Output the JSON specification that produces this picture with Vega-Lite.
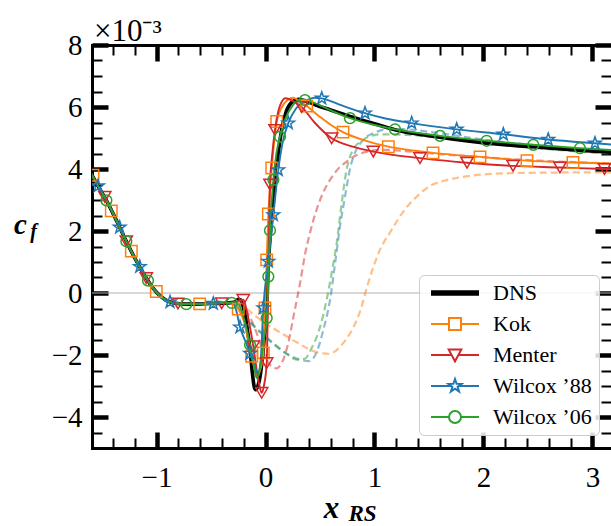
{
"$schema": "https://vega.github.io/schema/vega-lite/v6.json",
"width": 519, "height": 403,
"autosize": "none",
"padding": {"left": 92, "top": 45, "right": 0, "bottom": 78},
"title": {"text": "×10⁻³", "anchor": "start", "frame": "group", "font": "Liberation Serif", "fontSize": 31, "fontWeight": "normal", "color": "black", "offset": 5, "dx": 2, "dy": 22},
"config": {"view": {"stroke": null}, "font": "Liberation Serif", "style": {"guide-label": {"font": "Liberation Serif", "fill": "black"}}, "legend": {"labelFont": "Liberation Serif", "labelFontSize": 22, "labelColor": "black", "labelFontWeight": "normal"}},
"datasets": {
"zero": [{"y": 0}],
"solid": [
{"m":"DNS","x":-1.6,"y":3.85},{"m":"DNS","x":-1.52,"y":3.35},{"m":"DNS","x":-1.454,"y":2.95},{"m":"DNS","x":-1.36,"y":2.28},{"m":"DNS","x":-1.261,"y":1.55},{"m":"DNS","x":-1.18,"y":1.0},{"m":"DNS","x":-1.106,"y":0.55},{"m":"DNS","x":-1.03,"y":0.15},{"m":"DNS","x":-0.959,"y":-0.12},{"m":"DNS","x":-0.89,"y":-0.27},{"m":"DNS","x":-0.83,"y":-0.33},{"m":"DNS","x":-0.7,"y":-0.36},{"m":"DNS","x":-0.5,"y":-0.34},{"m":"DNS","x":-0.35,"y":-0.32},
{"m":"DNS","x":-0.28,"y":-0.29},{"m":"DNS","x":-0.25,"y":-0.2},{"m":"DNS","x":-0.23,"y":-0.22},{"m":"DNS","x":-0.2,"y":-0.5},{"m":"DNS","x":-0.17,"y":-1.1},{"m":"DNS","x":-0.142,"y":-1.83},{"m":"DNS","x":-0.12,"y":-2.6},{"m":"DNS","x":-0.105,"y":-3.0},{"m":"DNS","x":-0.09,"y":-3.12},{"m":"DNS","x":-0.07,"y":-3.0},{"m":"DNS","x":-0.05,"y":-2.7},{"m":"DNS","x":-0.035,"y":-2.3},{"m":"DNS","x":-0.01,"y":-1.4},{"m":"DNS","x":0.011,"y":-0.6},{"m":"DNS","x":0.023,"y":0.7},{"m":"DNS","x":0.04,"y":1.7},{"m":"DNS","x":0.057,"y":2.4},{"m":"DNS","x":0.09,"y":3.6},{"m":"DNS","x":0.12,"y":4.6},{"m":"DNS","x":0.15,"y":5.3},{"m":"DNS","x":0.19,"y":5.85},{"m":"DNS","x":0.24,"y":6.15},{"m":"DNS","x":0.3,"y":6.25},{"m":"DNS","x":0.38,"y":6.18},{"m":"DNS","x":0.45,"y":6.08},{"m":"DNS","x":0.592,"y":5.91},{"m":"DNS","x":0.8,"y":5.67},{"m":"DNS","x":1.0,"y":5.46},{"m":"DNS","x":1.206,"y":5.25},{"m":"DNS","x":1.5,"y":5.07},{"m":"DNS","x":1.97,"y":4.86},{"m":"DNS","x":2.5,"y":4.7},{"m":"DNS","x":2.9,"y":4.6},{"m":"DNS","x":3.22,"y":4.53},
{"m":"Kok","x":-1.6,"y":3.85},{"m":"Kok","x":-1.52,"y":3.35},{"m":"Kok","x":-1.454,"y":2.95},{"m":"Kok","x":-1.36,"y":2.28},{"m":"Kok","x":-1.261,"y":1.55},{"m":"Kok","x":-1.18,"y":1.0},{"m":"Kok","x":-1.106,"y":0.55},{"m":"Kok","x":-1.03,"y":0.15},{"m":"Kok","x":-0.959,"y":-0.12},{"m":"Kok","x":-0.89,"y":-0.27},{"m":"Kok","x":-0.83,"y":-0.33},{"m":"Kok","x":-0.7,"y":-0.36},{"m":"Kok","x":-0.5,"y":-0.34},{"m":"Kok","x":-0.35,"y":-0.32},
{"m":"Kok","x":-0.3,"y":-0.33},{"m":"Kok","x":-0.25,"y":-0.52},{"m":"Kok","x":-0.2,"y":-0.9},{"m":"Kok","x":-0.16,"y":-1.5},{"m":"Kok","x":-0.127,"y":-2.04},{"m":"Kok","x":-0.1,"y":-2.45},{"m":"Kok","x":-0.075,"y":-2.7},{"m":"Kok","x":-0.05,"y":-2.5},{"m":"Kok","x":-0.02,"y":-1.93},{"m":"Kok","x":-0.005,"y":-0.48},{"m":"Kok","x":0.011,"y":1.07},{"m":"Kok","x":0.026,"y":2.55},{"m":"Kok","x":0.057,"y":4.03},{"m":"Kok","x":0.08,"y":4.9},{"m":"Kok","x":0.103,"y":5.53},{"m":"Kok","x":0.15,"y":6.0},{"m":"Kok","x":0.2,"y":6.22},{"m":"Kok","x":0.252,"y":6.3},{"m":"Kok","x":0.3,"y":6.22},{"m":"Kok","x":0.378,"y":6.03},{"m":"Kok","x":0.5,"y":5.68},{"m":"Kok","x":0.6,"y":5.42},{"m":"Kok","x":0.711,"y":5.19},{"m":"Kok","x":0.9,"y":4.93},{"m":"Kok","x":1.127,"y":4.72},{"m":"Kok","x":1.3,"y":4.62},{"m":"Kok","x":1.537,"y":4.52},{"m":"Kok","x":1.968,"y":4.39},{"m":"Kok","x":2.399,"y":4.27},{"m":"Kok","x":2.821,"y":4.21},{"m":"Kok","x":3.22,"y":4.17},
{"m":"Menter","x":-1.6,"y":3.85},{"m":"Menter","x":-1.52,"y":3.35},{"m":"Menter","x":-1.454,"y":2.95},{"m":"Menter","x":-1.36,"y":2.28},{"m":"Menter","x":-1.261,"y":1.55},{"m":"Menter","x":-1.18,"y":1.0},{"m":"Menter","x":-1.106,"y":0.55},{"m":"Menter","x":-1.03,"y":0.15},{"m":"Menter","x":-0.959,"y":-0.12},{"m":"Menter","x":-0.89,"y":-0.27},{"m":"Menter","x":-0.83,"y":-0.33},{"m":"Menter","x":-0.7,"y":-0.36},{"m":"Menter","x":-0.5,"y":-0.34},{"m":"Menter","x":-0.35,"y":-0.32},
{"m":"Menter","x":-0.3,"y":-0.3},{"m":"Menter","x":-0.204,"y":-0.22},{"m":"Menter","x":-0.17,"y":-0.6},{"m":"Menter","x":-0.14,"y":-1.15},{"m":"Menter","x":-0.112,"y":-1.72},{"m":"Menter","x":-0.08,"y":-2.5},{"m":"Menter","x":-0.055,"y":-3.0},{"m":"Menter","x":-0.035,"y":-3.22},{"m":"Menter","x":-0.015,"y":-3.0},{"m":"Menter","x":0.011,"y":-2.26},{"m":"Menter","x":0.022,"y":-0.3},{"m":"Menter","x":0.03,"y":1.6},{"m":"Menter","x":0.041,"y":3.5},{"m":"Menter","x":0.06,"y":4.4},{"m":"Menter","x":0.087,"y":5.26},{"m":"Menter","x":0.12,"y":5.9},{"m":"Menter","x":0.15,"y":6.18},{"m":"Menter","x":0.179,"y":6.28},{"m":"Menter","x":0.22,"y":6.25},{"m":"Menter","x":0.27,"y":6.15},{"m":"Menter","x":0.332,"y":6.0},{"m":"Menter","x":0.45,"y":5.5},{"m":"Menter","x":0.607,"y":4.99},{"m":"Menter","x":0.8,"y":4.72},{"m":"Menter","x":0.989,"y":4.56},{"m":"Menter","x":1.2,"y":4.44},{"m":"Menter","x":1.417,"y":4.35},{"m":"Menter","x":1.849,"y":4.2},{"m":"Menter","x":2.271,"y":4.1},{"m":"Menter","x":2.702,"y":4.05},{"m":"Menter","x":3.11,"y":4.0},{"m":"Menter","x":3.22,"y":3.99},
{"m":"Wilcox ’88","x":-1.6,"y":3.85},{"m":"Wilcox ’88","x":-1.52,"y":3.35},{"m":"Wilcox ’88","x":-1.454,"y":2.95},{"m":"Wilcox ’88","x":-1.36,"y":2.28},{"m":"Wilcox ’88","x":-1.261,"y":1.55},{"m":"Wilcox ’88","x":-1.18,"y":1.0},{"m":"Wilcox ’88","x":-1.106,"y":0.55},{"m":"Wilcox ’88","x":-1.03,"y":0.15},{"m":"Wilcox ’88","x":-0.959,"y":-0.12},{"m":"Wilcox ’88","x":-0.89,"y":-0.27},{"m":"Wilcox ’88","x":-0.83,"y":-0.33},{"m":"Wilcox ’88","x":-0.7,"y":-0.36},{"m":"Wilcox ’88","x":-0.5,"y":-0.34},{"m":"Wilcox ’88","x":-0.35,"y":-0.32},
{"m":"Wilcox ’88","x":-0.3,"y":-0.33},{"m":"Wilcox ’88","x":-0.27,"y":-0.55},{"m":"Wilcox ’88","x":-0.234,"y":-1.1},{"m":"Wilcox ’88","x":-0.18,"y":-1.6},{"m":"Wilcox ’88","x":-0.142,"y":-1.95},{"m":"Wilcox ’88","x":-0.1,"y":-2.35},{"m":"Wilcox ’88","x":-0.07,"y":-2.6},{"m":"Wilcox ’88","x":-0.045,"y":-2.2},{"m":"Wilcox ’88","x":-0.02,"y":-0.48},{"m":"Wilcox ’88","x":0.026,"y":1.02},{"m":"Wilcox ’88","x":0.072,"y":2.52},{"m":"Wilcox ’88","x":0.117,"y":3.97},{"m":"Wilcox ’88","x":0.16,"y":4.9},{"m":"Wilcox ’88","x":0.209,"y":5.48},{"m":"Wilcox ’88","x":0.28,"y":5.95},{"m":"Wilcox ’88","x":0.38,"y":6.22},{"m":"Wilcox ’88","x":0.45,"y":6.3},{"m":"Wilcox ’88","x":0.516,"y":6.28},{"m":"Wilcox ’88","x":0.7,"y":6.05},{"m":"Wilcox ’88","x":0.913,"y":5.8},{"m":"Wilcox ’88","x":1.1,"y":5.63},{"m":"Wilcox ’88","x":1.341,"y":5.48},{"m":"Wilcox ’88","x":1.754,"y":5.28},{"m":"Wilcox ’88","x":2.182,"y":5.12},{"m":"Wilcox ’88","x":2.594,"y":4.95},{"m":"Wilcox ’88","x":3.023,"y":4.83},{"m":"Wilcox ’88","x":3.22,"y":4.78},
{"m":"Wilcox ’06","x":-1.6,"y":3.85},{"m":"Wilcox ’06","x":-1.52,"y":3.35},{"m":"Wilcox ’06","x":-1.454,"y":2.95},{"m":"Wilcox ’06","x":-1.36,"y":2.28},{"m":"Wilcox ’06","x":-1.261,"y":1.55},{"m":"Wilcox ’06","x":-1.18,"y":1.0},{"m":"Wilcox ’06","x":-1.106,"y":0.55},{"m":"Wilcox ’06","x":-1.03,"y":0.15},{"m":"Wilcox ’06","x":-0.959,"y":-0.12},{"m":"Wilcox ’06","x":-0.89,"y":-0.27},{"m":"Wilcox ’06","x":-0.83,"y":-0.33},{"m":"Wilcox ’06","x":-0.7,"y":-0.36},{"m":"Wilcox ’06","x":-0.5,"y":-0.34},{"m":"Wilcox ’06","x":-0.35,"y":-0.32},
{"m":"Wilcox ’06","x":-0.31,"y":-0.32},{"m":"Wilcox ’06","x":-0.25,"y":-0.36},{"m":"Wilcox ’06","x":-0.2,"y":-0.8},{"m":"Wilcox ’06","x":-0.142,"y":-1.67},{"m":"Wilcox ’06","x":-0.11,"y":-2.3},{"m":"Wilcox ’06","x":-0.081,"y":-2.74},{"m":"Wilcox ’06","x":-0.05,"y":-2.4},{"m":"Wilcox ’06","x":-0.02,"y":-1.6},{"m":"Wilcox ’06","x":0.011,"y":-0.81},{"m":"Wilcox ’06","x":0.026,"y":0.53},{"m":"Wilcox ’06","x":0.041,"y":2.02},{"m":"Wilcox ’06","x":0.072,"y":3.65},{"m":"Wilcox ’06","x":0.1,"y":4.5},{"m":"Wilcox ’06","x":0.133,"y":5.04},{"m":"Wilcox ’06","x":0.18,"y":5.6},{"m":"Wilcox ’06","x":0.25,"y":6.05},{"m":"Wilcox ’06","x":0.33,"y":6.24},{"m":"Wilcox ’06","x":0.4,"y":6.2},{"m":"Wilcox ’06","x":0.5,"y":6.05},{"m":"Wilcox ’06","x":0.775,"y":5.64},{"m":"Wilcox ’06","x":1.0,"y":5.42},{"m":"Wilcox ’06","x":1.188,"y":5.28},{"m":"Wilcox ’06","x":1.601,"y":5.07},{"m":"Wilcox ’06","x":2.029,"y":4.91},{"m":"Wilcox ’06","x":2.457,"y":4.78},{"m":"Wilcox ’06","x":2.885,"y":4.67},{"m":"Wilcox ’06","x":3.22,"y":4.6}
],
"dashed": [
{"m":"Kok","x":-1.6,"y":3.85},{"m":"Kok","x":-1.52,"y":3.35},{"m":"Kok","x":-1.454,"y":2.95},{"m":"Kok","x":-1.36,"y":2.28},{"m":"Kok","x":-1.261,"y":1.55},{"m":"Kok","x":-1.18,"y":1.0},{"m":"Kok","x":-1.106,"y":0.55},{"m":"Kok","x":-1.03,"y":0.15},{"m":"Kok","x":-0.959,"y":-0.12},{"m":"Kok","x":-0.89,"y":-0.27},{"m":"Kok","x":-0.83,"y":-0.33},{"m":"Kok","x":-0.7,"y":-0.36},{"m":"Kok","x":-0.5,"y":-0.34},{"m":"Kok","x":-0.35,"y":-0.32},
{"m":"Kok","x":-0.3,"y":-0.33},{"m":"Kok","x":-0.206,"y":-0.43},{"m":"Kok","x":-0.1,"y":-0.72},{"m":"Kok","x":0.0,"y":-0.98},{"m":"Kok","x":0.163,"y":-1.33},{"m":"Kok","x":0.3,"y":-1.62},{"m":"Kok","x":0.408,"y":-1.83},{"m":"Kok","x":0.5,"y":-1.93},{"m":"Kok","x":0.58,"y":-1.96},{"m":"Kok","x":0.65,"y":-1.85},{"m":"Kok","x":0.714,"y":-1.61},{"m":"Kok","x":0.8,"y":-1.15},{"m":"Kok","x":0.867,"y":-0.6},{"m":"Kok","x":0.94,"y":0.3},{"m":"Kok","x":1.05,"y":1.39},{"m":"Kok","x":1.15,"y":2.0},{"m":"Kok","x":1.28,"y":2.7},{"m":"Kok","x":1.4,"y":3.15},{"m":"Kok","x":1.509,"y":3.45},{"m":"Kok","x":1.65,"y":3.63},{"m":"Kok","x":1.8,"y":3.74},{"m":"Kok","x":2.06,"y":3.84},{"m":"Kok","x":2.5,"y":3.88},{"m":"Kok","x":3.0,"y":3.89},{"m":"Kok","x":3.22,"y":3.89},
{"m":"Menter","x":-1.6,"y":3.85},{"m":"Menter","x":-1.52,"y":3.35},{"m":"Menter","x":-1.454,"y":2.95},{"m":"Menter","x":-1.36,"y":2.28},{"m":"Menter","x":-1.261,"y":1.55},{"m":"Menter","x":-1.18,"y":1.0},{"m":"Menter","x":-1.106,"y":0.55},{"m":"Menter","x":-1.03,"y":0.15},{"m":"Menter","x":-0.959,"y":-0.12},{"m":"Menter","x":-0.89,"y":-0.27},{"m":"Menter","x":-0.83,"y":-0.33},{"m":"Menter","x":-0.7,"y":-0.36},{"m":"Menter","x":-0.5,"y":-0.34},{"m":"Menter","x":-0.35,"y":-0.32},
{"m":"Menter","x":-0.28,"y":-0.3},{"m":"Menter","x":-0.2,"y":-0.45},{"m":"Menter","x":-0.14,"y":-0.8},{"m":"Menter","x":-0.08,"y":-1.3},{"m":"Menter","x":-0.03,"y":-1.8},{"m":"Menter","x":0.011,"y":-2.15},{"m":"Menter","x":0.06,"y":-2.38},{"m":"Menter","x":0.103,"y":-2.43},{"m":"Menter","x":0.15,"y":-2.25},{"m":"Menter","x":0.209,"y":-1.61},{"m":"Menter","x":0.26,"y":-0.7},{"m":"Menter","x":0.317,"y":0.32},{"m":"Menter","x":0.36,"y":1.2},{"m":"Menter","x":0.408,"y":1.94},{"m":"Menter","x":0.47,"y":2.7},{"m":"Menter","x":0.53,"y":3.25},{"m":"Menter","x":0.592,"y":3.65},{"m":"Menter","x":0.66,"y":3.98},{"m":"Menter","x":0.745,"y":4.24},{"m":"Menter","x":0.82,"y":4.42},{"m":"Menter","x":0.9,"y":4.53},{"m":"Menter","x":0.989,"y":4.6},{"m":"Menter","x":1.1,"y":4.62},{"m":"Menter","x":1.3,"y":4.57},{"m":"Menter","x":1.6,"y":4.48},{"m":"Menter","x":2.0,"y":4.38},{"m":"Menter","x":2.5,"y":4.27},{"m":"Menter","x":3.0,"y":4.2},{"m":"Menter","x":3.22,"y":4.17},
{"m":"Wilcox ’88","x":-1.6,"y":3.85},{"m":"Wilcox ’88","x":-1.52,"y":3.35},{"m":"Wilcox ’88","x":-1.454,"y":2.95},{"m":"Wilcox ’88","x":-1.36,"y":2.28},{"m":"Wilcox ’88","x":-1.261,"y":1.55},{"m":"Wilcox ’88","x":-1.18,"y":1.0},{"m":"Wilcox ’88","x":-1.106,"y":0.55},{"m":"Wilcox ’88","x":-1.03,"y":0.15},{"m":"Wilcox ’88","x":-0.959,"y":-0.12},{"m":"Wilcox ’88","x":-0.89,"y":-0.27},{"m":"Wilcox ’88","x":-0.83,"y":-0.33},{"m":"Wilcox ’88","x":-0.7,"y":-0.36},{"m":"Wilcox ’88","x":-0.5,"y":-0.34},{"m":"Wilcox ’88","x":-0.35,"y":-0.32},
{"m":"Wilcox ’88","x":-0.3,"y":-0.32},{"m":"Wilcox ’88","x":-0.204,"y":-0.72},{"m":"Wilcox ’88","x":-0.1,"y":-1.1},{"m":"Wilcox ’88","x":0.0,"y":-1.42},{"m":"Wilcox ’88","x":0.1,"y":-1.72},{"m":"Wilcox ’88","x":0.2,"y":-1.97},{"m":"Wilcox ’88","x":0.317,"y":-2.15},{"m":"Wilcox ’88","x":0.4,"y":-2.2},{"m":"Wilcox ’88","x":0.47,"y":-1.9},{"m":"Wilcox ’88","x":0.53,"y":-1.2},{"m":"Wilcox ’88","x":0.592,"y":-0.22},{"m":"Wilcox ’88","x":0.64,"y":1.0},{"m":"Wilcox ’88","x":0.69,"y":2.3},{"m":"Wilcox ’88","x":0.729,"y":3.1},{"m":"Wilcox ’88","x":0.775,"y":4.0},{"m":"Wilcox ’88","x":0.83,"y":4.6},{"m":"Wilcox ’88","x":0.897,"y":4.94},{"m":"Wilcox ’88","x":1.02,"y":5.2},{"m":"Wilcox ’88","x":1.15,"y":5.3},{"m":"Wilcox ’88","x":1.3,"y":5.28},{"m":"Wilcox ’88","x":1.6,"y":5.15},{"m":"Wilcox ’88","x":2.0,"y":4.95},{"m":"Wilcox ’88","x":2.5,"y":4.75},{"m":"Wilcox ’88","x":3.0,"y":4.58},{"m":"Wilcox ’88","x":3.22,"y":4.52},
{"m":"Wilcox ’06","x":-1.6,"y":3.85},{"m":"Wilcox ’06","x":-1.52,"y":3.35},{"m":"Wilcox ’06","x":-1.454,"y":2.95},{"m":"Wilcox ’06","x":-1.36,"y":2.28},{"m":"Wilcox ’06","x":-1.261,"y":1.55},{"m":"Wilcox ’06","x":-1.18,"y":1.0},{"m":"Wilcox ’06","x":-1.106,"y":0.55},{"m":"Wilcox ’06","x":-1.03,"y":0.15},{"m":"Wilcox ’06","x":-0.959,"y":-0.12},{"m":"Wilcox ’06","x":-0.89,"y":-0.27},{"m":"Wilcox ’06","x":-0.83,"y":-0.33},{"m":"Wilcox ’06","x":-0.7,"y":-0.36},{"m":"Wilcox ’06","x":-0.5,"y":-0.34},{"m":"Wilcox ’06","x":-0.35,"y":-0.32},
{"m":"Wilcox ’06","x":-0.3,"y":-0.32},{"m":"Wilcox ’06","x":-0.204,"y":-0.7},{"m":"Wilcox ’06","x":-0.1,"y":-1.07},{"m":"Wilcox ’06","x":0.0,"y":-1.4},{"m":"Wilcox ’06","x":0.1,"y":-1.7},{"m":"Wilcox ’06","x":0.2,"y":-1.98},{"m":"Wilcox ’06","x":0.286,"y":-2.15},{"m":"Wilcox ’06","x":0.36,"y":-2.12},{"m":"Wilcox ’06","x":0.42,"y":-1.8},{"m":"Wilcox ’06","x":0.5,"y":-1.1},{"m":"Wilcox ’06","x":0.561,"y":-0.22},{"m":"Wilcox ’06","x":0.61,"y":0.7},{"m":"Wilcox ’06","x":0.653,"y":1.6},{"m":"Wilcox ’06","x":0.699,"y":2.9},{"m":"Wilcox ’06","x":0.745,"y":4.0},{"m":"Wilcox ’06","x":0.8,"y":4.6},{"m":"Wilcox ’06","x":0.9,"y":4.95},{"m":"Wilcox ’06","x":1.05,"y":5.12},{"m":"Wilcox ’06","x":1.3,"y":5.1},{"m":"Wilcox ’06","x":1.6,"y":5.0},{"m":"Wilcox ’06","x":2.06,"y":4.82},{"m":"Wilcox ’06","x":2.5,"y":4.67},{"m":"Wilcox ’06","x":3.0,"y":4.53},{"m":"Wilcox ’06","x":3.22,"y":4.48}
],
"pts": [
{"m":"Kok","x":-1.583,"y":3.8},{"m":"Kok","x":-1.415,"y":2.65},{"m":"Kok","x":-1.231,"y":1.35},{"m":"Kok","x":-1.002,"y":0.05},{"m":"Kok","x":-0.604,"y":-0.35},{"m":"Kok","x":-0.25,"y":-0.52},{"m":"Kok","x":-0.127,"y":-2.04},{"m":"Kok","x":-0.02,"y":-1.93},{"m":"Kok","x":-0.005,"y":-0.48},{"m":"Kok","x":0.011,"y":1.07},{"m":"Kok","x":0.026,"y":2.55},{"m":"Kok","x":0.057,"y":4.03},{"m":"Kok","x":0.103,"y":5.53},{"m":"Kok","x":0.378,"y":6.03},{"m":"Kok","x":0.711,"y":5.19},{"m":"Kok","x":1.127,"y":4.72},{"m":"Kok","x":1.537,"y":4.52},{"m":"Kok","x":1.968,"y":4.39},{"m":"Kok","x":2.399,"y":4.27},{"m":"Kok","x":2.821,"y":4.21},
{"m":"Menter","x":-1.475,"y":3.1},{"m":"Menter","x":-1.277,"y":1.67},{"m":"Menter","x":-1.094,"y":0.48},{"m":"Menter","x":-0.803,"y":-0.34},{"m":"Menter","x":-0.402,"y":-0.33},{"m":"Menter","x":-0.204,"y":-0.22},{"m":"Menter","x":-0.112,"y":-1.72},{"m":"Menter","x":-0.035,"y":-3.22},{"m":"Menter","x":0.011,"y":-2.26},{"m":"Menter","x":0.041,"y":3.5},{"m":"Menter","x":0.087,"y":5.26},{"m":"Menter","x":0.332,"y":6.0},{"m":"Menter","x":0.607,"y":4.99},{"m":"Menter","x":0.989,"y":4.56},{"m":"Menter","x":1.417,"y":4.35},{"m":"Menter","x":1.849,"y":4.2},{"m":"Menter","x":2.271,"y":4.1},{"m":"Menter","x":2.702,"y":4.05},{"m":"Menter","x":3.11,"y":4.0},
{"m":"Wilcox ’88","x":-1.537,"y":3.45},{"m":"Wilcox ’88","x":-1.338,"y":2.12},{"m":"Wilcox ’88","x":-1.154,"y":0.85},{"m":"Wilcox ’88","x":-0.876,"y":-0.29},{"m":"Wilcox ’88","x":-0.479,"y":-0.34},{"m":"Wilcox ’88","x":-0.234,"y":-1.1},{"m":"Wilcox ’88","x":-0.142,"y":-1.95},{"m":"Wilcox ’88","x":-0.02,"y":-0.48},{"m":"Wilcox ’88","x":0.026,"y":1.02},{"m":"Wilcox ’88","x":0.072,"y":2.52},{"m":"Wilcox ’88","x":0.117,"y":3.97},{"m":"Wilcox ’88","x":0.209,"y":5.48},{"m":"Wilcox ’88","x":0.516,"y":6.28},{"m":"Wilcox ’88","x":0.913,"y":5.8},{"m":"Wilcox ’88","x":1.341,"y":5.48},{"m":"Wilcox ’88","x":1.754,"y":5.28},{"m":"Wilcox ’88","x":2.182,"y":5.12},{"m":"Wilcox ’88","x":2.594,"y":4.95},{"m":"Wilcox ’88","x":3.023,"y":4.83},
{"m":"Wilcox ’06","x":-1.46,"y":2.99},{"m":"Wilcox ’06","x":-1.277,"y":1.67},{"m":"Wilcox ’06","x":-1.078,"y":0.4},{"m":"Wilcox ’06","x":-0.727,"y":-0.36},{"m":"Wilcox ’06","x":-0.31,"y":-0.32},{"m":"Wilcox ’06","x":-0.142,"y":-1.67},{"m":"Wilcox ’06","x":0.011,"y":-0.81},{"m":"Wilcox ’06","x":0.026,"y":0.53},{"m":"Wilcox ’06","x":0.041,"y":2.02},{"m":"Wilcox ’06","x":0.072,"y":3.65},{"m":"Wilcox ’06","x":0.133,"y":5.04},{"m":"Wilcox ’06","x":0.362,"y":6.22},{"m":"Wilcox ’06","x":0.775,"y":5.64},{"m":"Wilcox ’06","x":1.188,"y":5.28},{"m":"Wilcox ’06","x":1.601,"y":5.07},{"m":"Wilcox ’06","x":2.029,"y":4.91},{"m":"Wilcox ’06","x":2.457,"y":4.78},{"m":"Wilcox ’06","x":2.885,"y":4.67}
]
},
"layer": [
{"data": {"name": "zero"}, "mark": {"type": "rule", "color": "#b0b0b0", "strokeWidth": 1},
 "encoding": {"y": {"field": "y", "type": "quantitative", "scale": {"domain": [-5, 8], "nice": false, "zero": false}, "axis": null}}},
{"data": {"name": "dashed"}, "mark": {"type": "line", "strokeDash": [7, 4], "opacity": 0.5, "strokeWidth": 2.2, "interpolate": "monotone", "clip": true},
 "encoding": {
  "x": {"field": "x", "type": "quantitative", "scale": {"domain": [-1.592, 3.17], "nice": false, "zero": false},
   "axis": {"orient": "top", "values": [-1.4,-1.2,-1,-0.8,-0.6,-0.4,-0.2,0,0.2,0.4,0.6,0.8,1,1.2,1.4,1.6,1.8,2,2.2,2.4,2.6,2.8,3], "labels": false, "grid": false,
    "tickSize": {"condition": {"test": "abs(datum.value - round(datum.value)) < 0.001", "value": -16}, "value": -10},
    "tickWidth": {"condition": {"test": "abs(datum.value - round(datum.value)) < 0.001", "value": 4.5}, "value": 2},
    "tickColor": "black", "domain": true, "domainColor": "black", "domainWidth": 3, "domainCap": "square",
    "title": "RS", "titleFont": "Liberation Serif", "titleFontSize": 23, "titleFontWeight": "bold", "titleFontStyle": "italic", "titleColor": "black", "titleX": 270, "titleY": 475, "titleAlign": "center", "titleBaseline": "alphabetic", "titleAngle": 0}},
  "y": {"field": "y", "type": "quantitative", "scale": {"domain": [-5, 8], "nice": false, "zero": false},
   "axis": {"orient": "right", "values": [-5,-4.5,-4,-3.5,-3,-2.5,-2,-1.5,-1,-0.5,0,0.5,1,1.5,2,2.5,3,3.5,4,4.5,5,5.5,6,6.5,7,7.5,8], "labels": false, "grid": false,
    "tickSize": {"condition": {"test": "abs(datum.value/2 - round(datum.value/2)) < 0.001", "value": -16}, "value": -10},
    "tickWidth": {"condition": {"test": "abs(datum.value/2 - round(datum.value/2)) < 0.001", "value": 4.5}, "value": 2},
    "tickColor": "black", "domain": false,
    "title": "f", "titleFont": "Liberation Serif", "titleFontSize": 20, "titleFontWeight": "bold", "titleFontStyle": "italic", "titleColor": "black", "titleX": -578, "titleY": 192, "titleAlign": "center", "titleBaseline": "alphabetic", "titleAngle": 0}},
  "color": {"field": "m", "type": "nominal", "scale": {"domain": ["DNS","Kok","Menter","Wilcox ’88","Wilcox ’06"], "range": ["#000000","#ff7f0e","#d62728","#1f77b4","#2ca02c"]}, "legend": null}}},
{"data": {"name": "solid"}, "transform": [{"filter": "datum.m === 'DNS'"}],
 "mark": {"type": "line", "strokeWidth": 3.6, "interpolate": "monotone", "clip": true},
 "encoding": {
  "x": {"field": "x", "type": "quantitative", "scale": {"domain": [-1.592, 3.17], "nice": false, "zero": false},
   "axis": {"orient": "bottom", "values": [-1.4,-1.2,-1,-0.8,-0.6,-0.4,-0.2,0,0.2,0.4,0.6,0.8,1,1.2,1.4,1.6,1.8,2,2.2,2.4,2.6,2.8,3], "grid": false,
    "labelExpr": "abs(datum.value - round(datum.value)) < 0.001 ? format(datum.value, 'd') : ''",
    "tickSize": {"condition": {"test": "abs(datum.value - round(datum.value)) < 0.001", "value": -16}, "value": -10},
    "tickWidth": {"condition": {"test": "abs(datum.value - round(datum.value)) < 0.001", "value": 4.5}, "value": 2},
    "tickColor": "black", "domain": true, "domainColor": "black", "domainWidth": 3, "domainCap": "square",
    "labelFont": "Liberation Serif", "labelFontSize": 29, "labelColor": "black", "labelPadding": 31, "labelFlush": false, "labelOverlap": false, "labelBound": false,
    "title": "x", "titleFont": "Liberation Serif", "titleFontSize": 31, "titleFontWeight": "bold", "titleFontStyle": "italic", "titleColor": "black", "titleX": 239, "titleY": 69, "titleAlign": "center", "titleBaseline": "alphabetic"}},
  "y": {"field": "y", "type": "quantitative", "scale": {"domain": [-5, 8], "nice": false, "zero": false},
   "axis": {"orient": "left", "values": [-5,-4.5,-4,-3.5,-3,-2.5,-2,-1.5,-1,-0.5,0,0.5,1,1.5,2,2.5,3,3.5,4,4.5,5,5.5,6,6.5,7,7.5,8], "grid": false,
    "labelExpr": "abs(datum.value/2 - round(datum.value/2)) < 0.001 ? format(datum.value, 'd') : ''",
    "tickSize": {"condition": {"test": "abs(datum.value/2 - round(datum.value/2)) < 0.001", "value": -16}, "value": -10},
    "tickWidth": {"condition": {"test": "abs(datum.value/2 - round(datum.value/2)) < 0.001", "value": 4.5}, "value": 2},
    "tickColor": "black", "domain": true, "domainColor": "black", "domainWidth": 3, "domainCap": "square",
    "labelFont": "Liberation Serif", "labelFontSize": 29, "labelColor": "black", "labelPadding": 26, "labelFlush": false, "labelOverlap": false, "labelBound": false,
    "title": "c", "titleFont": "Liberation Serif", "titleFontSize": 29, "titleFontWeight": "bold", "titleFontStyle": "italic", "titleColor": "black", "titleX": -72, "titleY": 188, "titleAlign": "center", "titleBaseline": "alphabetic", "titleAngle": 0}},
  "color": {"field": "m", "type": "nominal", "scale": {"domain": ["DNS","Kok","Menter","Wilcox ’88","Wilcox ’06"], "range": ["#000000","#ff7f0e","#d62728","#1f77b4","#2ca02c"]}, "legend": null}}},
{"data": {"name": "solid"}, "transform": [{"filter": "datum.m !== 'DNS'"}],
 "mark": {"type": "line", "strokeWidth": 1.9, "interpolate": "monotone", "clip": true},
 "encoding": {
  "x": {"field": "x", "type": "quantitative", "scale": {"domain": [-1.592, 3.17], "nice": false, "zero": false}, "axis": null},
  "y": {"field": "y", "type": "quantitative", "scale": {"domain": [-5, 8], "nice": false, "zero": false}, "axis": null},
  "color": {"field": "m", "type": "nominal", "scale": {"domain": ["DNS","Kok","Menter","Wilcox ’88","Wilcox ’06"], "range": ["#000000","#ff7f0e","#d62728","#1f77b4","#2ca02c"]}, "legend": null}}},
{"data": {"name": "pts"}, "transform": [{"filter": "datum.m === 'Kok'"}],
 "mark": {"type": "point", "shape": "square", "filled": false, "opacity": 1, "size": 130, "strokeWidth": 1.5, "clip": true},
 "encoding": {
  "x": {"field": "x", "type": "quantitative", "axis": null},
  "y": {"field": "y", "type": "quantitative", "axis": null},
  "color": {"field": "m", "type": "nominal", "scale": {"domain": ["DNS","Kok","Menter","Wilcox ’88","Wilcox ’06"], "range": ["#000000","#ff7f0e","#d62728","#1f77b4","#2ca02c"]}, "legend": null}}},
{"data": {"name": "pts"}, "transform": [{"filter": "datum.m === 'Menter'"}],
 "mark": {"type": "point", "shape": "triangle-down", "filled": false, "opacity": 1, "size": 150, "strokeWidth": 1.5, "clip": true},
 "encoding": {
  "x": {"field": "x", "type": "quantitative", "axis": null},
  "y": {"field": "y", "type": "quantitative", "axis": null},
  "color": {"field": "m", "type": "nominal", "scale": {"domain": ["DNS","Kok","Menter","Wilcox ’88","Wilcox ’06"], "range": ["#000000","#ff7f0e","#d62728","#1f77b4","#2ca02c"]}, "legend": null}}},
{"data": {"name": "pts"}, "transform": [{"filter": "datum.m === 'Wilcox ’88'"}],
 "mark": {"type": "point", "shape": "M0,-1L0.235,-0.324L0.951,-0.309L0.38,0.124L0.588,0.809L0,0.4L-0.588,0.809L-0.38,0.124L-0.951,-0.309L-0.235,-0.324Z", "filled": false, "opacity": 1, "size": 170, "strokeWidth": 1.5, "clip": true},
 "encoding": {
  "x": {"field": "x", "type": "quantitative", "axis": null},
  "y": {"field": "y", "type": "quantitative", "axis": null},
  "color": {"field": "m", "type": "nominal", "scale": {"domain": ["DNS","Kok","Menter","Wilcox ’88","Wilcox ’06"], "range": ["#000000","#ff7f0e","#d62728","#1f77b4","#2ca02c"]}, "legend": null}}},
{"data": {"name": "pts"}, "transform": [{"filter": "datum.m === 'Wilcox ’06'"}],
 "mark": {"type": "point", "shape": "circle", "filled": false, "opacity": 1, "size": 115, "strokeWidth": 1.5, "clip": true},
 "encoding": {
  "x": {"field": "x", "type": "quantitative", "axis": null},
  "y": {"field": "y", "type": "quantitative", "axis": null},
  "color": {"field": "m", "type": "nominal", "scale": {"domain": ["DNS","Kok","Menter","Wilcox ’88","Wilcox ’06"], "range": ["#000000","#ff7f0e","#d62728","#1f77b4","#2ca02c"]}, "legend": null}}},
{"data": {"name": "pts"}, "transform": [{"filter": "false"}],
 "mark": {"type": "point", "filled": false, "opacity": 1, "size": 144, "strokeWidth": 2},
 "encoding": {
  "x": {"field": "x", "type": "quantitative", "axis": null},
  "y": {"field": "y", "type": "quantitative", "axis": null},
  "color": {"field": "m", "type": "nominal", "scale": {"domain": ["DNS","Kok","Menter","Wilcox ’88","Wilcox ’06"], "range": ["#000000","#ff7f0e","#d62728","#1f77b4","#2ca02c"]},
   "legend": {"title": null, "orient": "none", "legendX": 327, "legendY": 230, "padding": 7, "cornerRadius": 5, "strokeColor": "#cccccc", "fillColor": "rgba(255,255,255,0.85)", "labelFont": "Liberation Serif", "labelFontSize": 22, "labelColor": "black", "symbolSize": 144, "symbolStrokeWidth": 2, "symbolOpacity": 1, "symbolOffset": 18, "labelOffset": 27, "rowPadding": 9}},
  "shape": {"field": "m", "type": "nominal", "scale": {"domain": ["DNS","Kok","Menter","Wilcox ’88","Wilcox ’06"], "range": [
    "M-4,-0.3H4M-4,0H4M-4,0.3H4",
    "M-4,0H-1M1,0H4M-1,-1H1V1H-1Z",
    "M-4,0H-0.54M0.54,0H4M-1.05,-0.9L1.05,-0.9L0,1.05Z",
    "M-4,0H-0.63M0.63,0H4M0,-1.15L0.27,-0.372L1.094,-0.355L0.437,0.142L0.676,0.93L0,0.46L-0.676,0.93L-0.437,0.142L-1.094,-0.355L-0.27,-0.372Z",
    "M-4,0H-1M1,0H4M1,0A1,1,0,1,1,-1,0A1,1,0,1,1,1,0"]},
   "legend": {"title": null, "orient": "none", "legendX": 327, "legendY": 230, "padding": 7, "cornerRadius": 5, "strokeColor": "#cccccc", "fillColor": "rgba(255,255,255,0.85)", "labelFont": "Liberation Serif", "labelFontSize": 22, "labelColor": "black", "symbolSize": 144, "symbolStrokeWidth": 2, "symbolOpacity": 1, "symbolOffset": 18, "labelOffset": 27, "rowPadding": 9}}}}
],
"resolve": {"scale": {"color": "independent", "shape": "independent"}, "axis": {"x": "independent", "y": "independent"}}
}
